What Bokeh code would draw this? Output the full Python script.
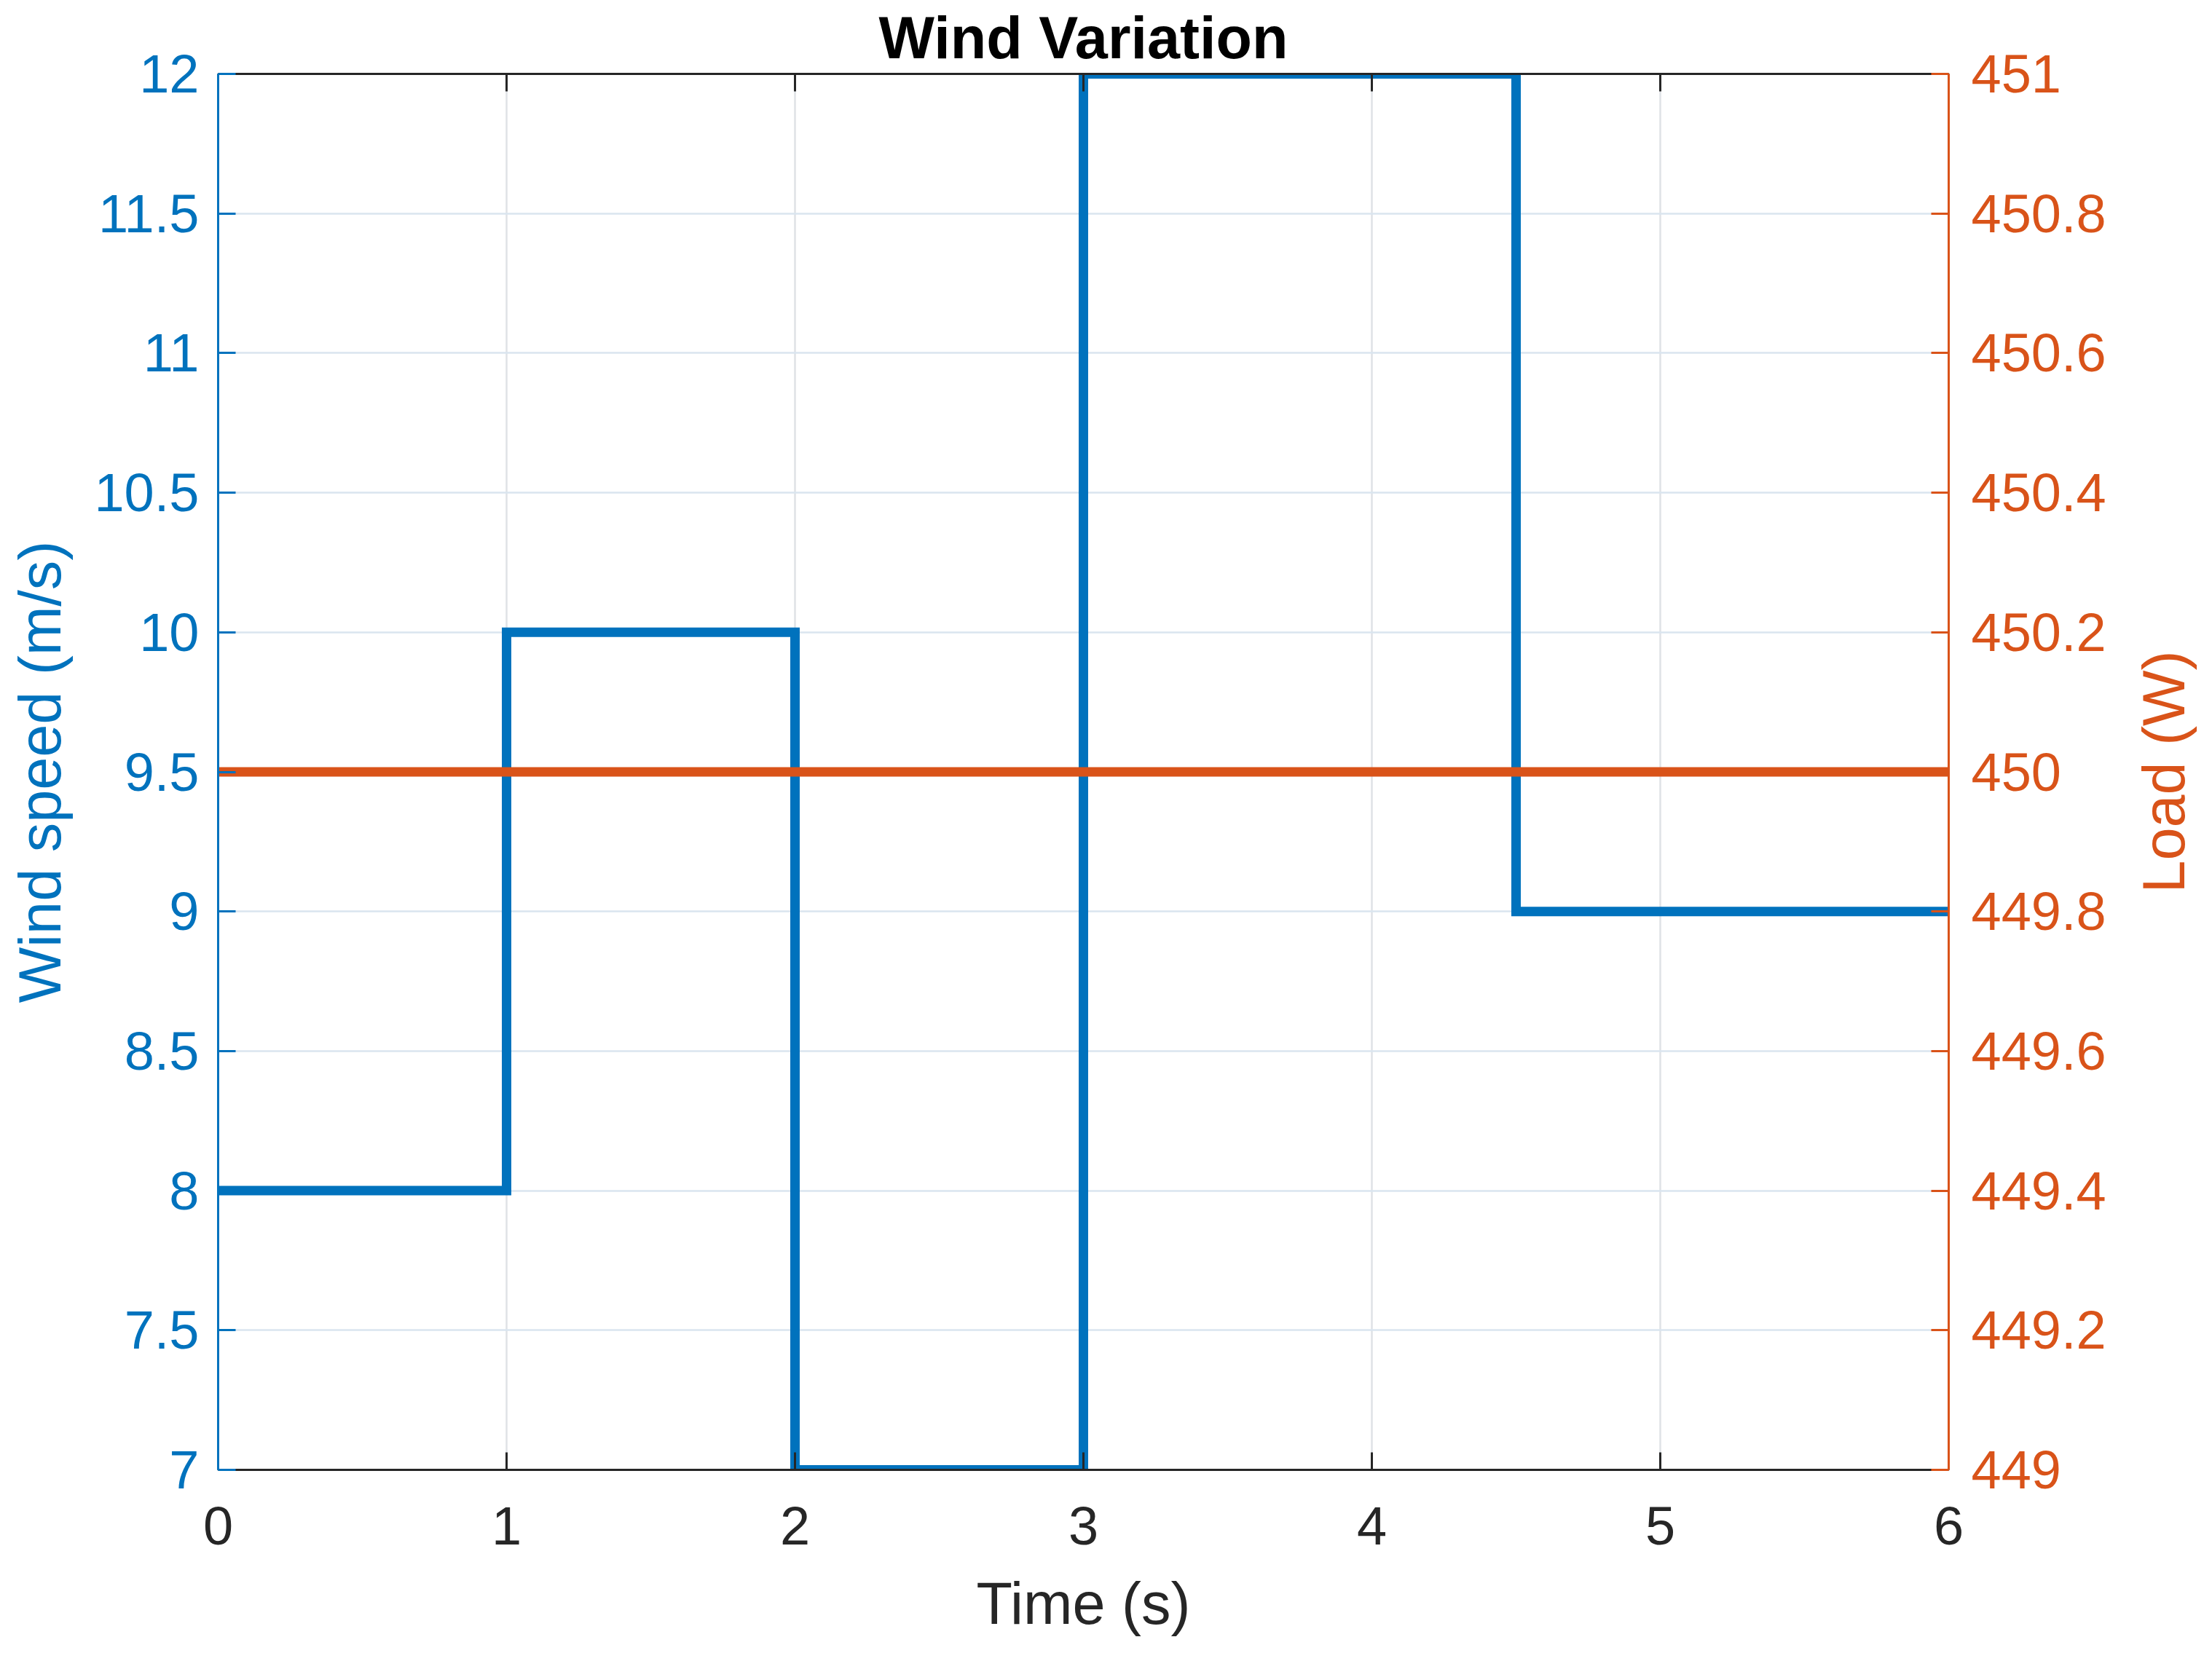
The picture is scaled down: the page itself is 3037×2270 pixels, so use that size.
import math
from bokeh.plotting import figure
from bokeh.models import Range1d, LinearAxis, FixedTicker, CustomJSTickFormatter, Label
from bokeh.embed import file_html
from bokeh.resources import INLINE

# ---- data ----
time_s = [0, 1, 2, 3, 4.5, 6]          # step break points (s)
wind_speed = [8, 10, 7, 12, 9]          # wind speed on each interval (m/s)
load_time = [0, 6]
load_w = [450, 450]                      # load (W)
x_ticks = [0, 1, 2, 3, 4, 5, 6]
wind_ticks = [7, 7.5, 8, 8.5, 9, 9.5, 10, 10.5, 11, 11.5, 12]
load_ticks = [449, 449.2, 449.4, 449.6, 449.8, 450, 450.2, 450.4, 450.6, 450.8, 451]

BLUE = "#0072BD"
ORANGE = "#D95319"
DARK = "#262626"
FONT = "Liberation Sans"
TICK_FS = "74px"
LABEL_FS = "81px"

FRAME_W, FRAME_H = 2376, 1917

fmt_code = "return String(Math.round(tick*10)/10);"

p = figure(frame_width=FRAME_W, frame_height=FRAME_H,
           x_range=Range1d(0, 6), y_range=Range1d(7, 12),
           output_backend="svg", toolbar_location=None,
           min_border_left=299, min_border_top=97,
           min_border_right=346, min_border_bottom=238,
           background_fill_color="white", border_fill_color="white")
p.outline_line_color = None

p.extra_y_ranges = {"load": Range1d(449, 451)}

wind_y = list(wind_speed) + [wind_speed[-1]]
p.step(time_s, wind_y, mode="after", line_width=13, line_color=BLUE,
       line_join="miter")
p.line(load_time, load_w, y_range_name="load", line_width=13,
       line_color=ORANGE, line_join="miter")


def style_axis(ax, color, ticks):
    ax.ticker = FixedTicker(ticks=ticks)
    ax.formatter = CustomJSTickFormatter(code=fmt_code)
    ax.axis_line_color = color
    ax.axis_line_width = 3
    ax.major_tick_line_color = color
    ax.major_tick_line_width = 3
    ax.major_tick_in = 24
    ax.major_tick_out = 0
    ax.minor_tick_line_color = None
    ax.major_label_text_color = color
    ax.major_label_text_font = FONT
    ax.major_label_text_font_size = TICK_FS
    ax.axis_label_text_color = color
    ax.axis_label_text_font = FONT
    ax.axis_label_text_font_size = LABEL_FS
    ax.axis_label_text_font_style = "normal"


# bottom axis
xa = p.xaxis[0]
style_axis(xa, DARK, x_ticks)
xa.axis_label = "Time (s)"
xa.major_label_standoff = 51
xa.axis_label_standoff = 33

# left axis
ya = p.yaxis[0]
style_axis(ya, BLUE, wind_ticks)
ya.axis_label = "Wind speed (m/s)"
ya.major_label_standoff = 26
ya.axis_label_standoff = 26

# right axis (label drawn separately so it reads bottom-to-top)
ra = LinearAxis(y_range_name="load")
style_axis(ra, ORANGE, load_ticks)
ra.major_label_standoff = 31
p.add_layout(ra, "right")

right_label = Label(text="Load (W)", x=76, y=FRAME_H / 2,
                    x_units="screen", y_units="screen", angle=math.pi / 2,
                    text_align="center", text_baseline="middle",
                    text_font=FONT, text_font_size=LABEL_FS,
                    text_color=ORANGE)
p.add_layout(right_label, "right")

# top axis (box edge with ticks, no labels)
ta = LinearAxis()
style_axis(ta, DARK, x_ticks)
ta.formatter = CustomJSTickFormatter(code="return '';")
ta.major_label_text_color = None
ta.major_label_standoff = 0
p.add_layout(ta, "above")

# grids
p.xgrid.ticker = FixedTicker(ticks=x_ticks)
p.ygrid.ticker = FixedTicker(ticks=wind_ticks)
p.xgrid.grid_line_color = "#dfe2e6"
p.ygrid.grid_line_color = "#dae5ef"
p.xgrid.grid_line_width = 2.5
p.ygrid.grid_line_width = 2.5

# title
p.title.text = "Wind Variation"
p.title.align = "center"
p.title.text_font = FONT
p.title.text_font_size = LABEL_FS
p.title.text_font_style = "bold"
p.title.text_color = "black"
p.title.standoff = 9

open("out.html", "w").write(file_html(p, INLINE))
